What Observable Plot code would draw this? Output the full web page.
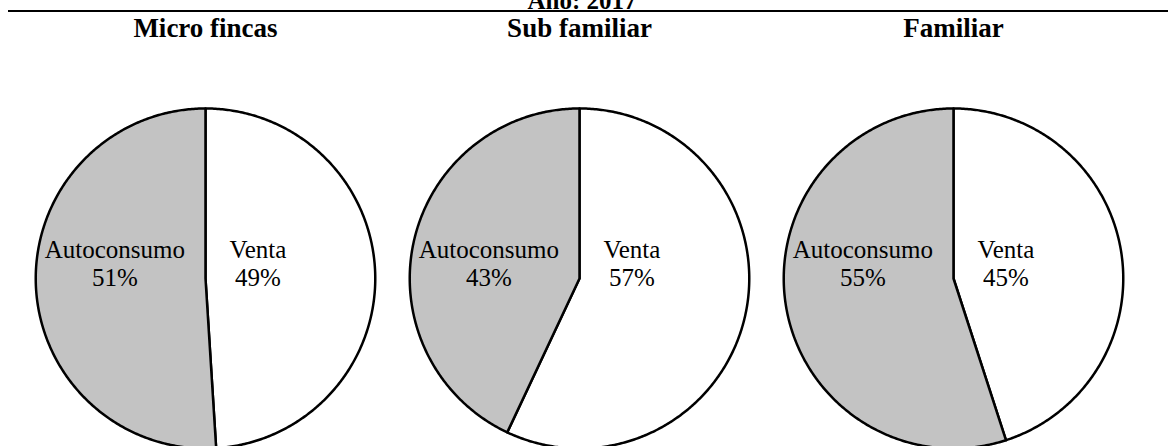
<!DOCTYPE html>
<html>
<head>
<meta charset="utf-8">
<script src="https://cdn.jsdelivr.net/npm/d3@7"></script>
<script src="https://cdn.jsdelivr.net/npm/@observablehq/plot@0.6"></script>
<style>
  html, body { margin: 0; padding: 0; background: white; overflow: hidden; }
  #wrap { position: relative; width: 1168px; height: 446px; }
  #chart { position: absolute; left: 0; top: 0; }
  #year { position: absolute; left: 382px; width: 400px; top: -13px; line-height: 24px;
          text-align: center; font: bold 25px "Liberation Serif", "Times New Roman", serif; color: black; z-index: 2; }
  #rule { position: absolute; left: 8px; right: 0; top: 10px; height: 2px; background: black; z-index: 2; }
</style>
</head>
<body>
<div id="wrap">
  <div id="chart"></div>
  <div id="year">Año: 2017</div>
  <div id="rule"></div>
</div>
<script>
// ---- data ----
const groups = ["Micro fincas", "Sub familiar", "Familiar"];
const categories = ["Venta", "Autoconsumo"];
const venta = [49, 57, 45];
const autoconsumo = [51, 43, 55];
const sliceColors = ["white", "#c3c3c3"];

// ---- build slices (unit radius) ----
const pie = d3.pie().sort(null).startAngle(0).endAngle(2 * Math.PI);
const pts = [];
const labels = [];
groups.forEach((g, i) => {
  const vals = [venta[i], autoconsumo[i]];
  pie(vals).forEach((a, j) => {
    const cat = categories[j];
    pts.push({group: g, cat, x: 0, y: 0});
    const n = Math.max(2, Math.ceil((a.endAngle - a.startAngle) / 0.01));
    for (let k = 0; k <= n; k++) {
      const t = a.startAngle + (a.endAngle - a.startAngle) * k / n;
      pts.push({group: g, cat, x: Math.sin(t), y: Math.cos(t)});
    }
    const mid = (a.startAngle + a.endAngle) / 2;
    const halfW = cat.length * 12.8 / 2 / 170;
    labels.push({group: g, cat, text: `${cat}\n${vals[j]}%`,
                 x: Math.sign(Math.sin(mid)) * (0.12 + halfW), y: 0.09});
  });
});

const chart = Plot.plot({
  width: 1168,
  height: 446,
  marginLeft: 17,
  marginRight: 28,
  marginTop: 0,
  marginBottom: 0,
  style: {background: "white"},
  fx: {domain: groups, padding: 0, axis: null},
  x: {domain: [-1.1015, 1.1015], axis: null},
  y: {domain: [-0.988, 1.635], axis: null},
  color: {domain: categories, range: sliceColors},
  marks: [
    Plot.line(pts, {fx: "group", x: "x", y: "y", z: "cat", fill: "cat",
      stroke: "black", strokeWidth: 2.5, curve: "linear-closed", strokeLinejoin: "round"}),
    Plot.text(labels, {fx: "group", x: "x", y: "y", text: "text",
      fontSize: 25, lineHeight: 1.12, fontFamily: "Liberation Serif, Times New Roman, serif", fill: "black"}),
    Plot.text(groups, {fx: d => d, text: d => d, frameAnchor: "top", lineAnchor: "middle", dy: 28,
      fontSize: 27, fontWeight: "bold", fontFamily: "Liberation Serif, Times New Roman, serif", fill: "black"})
  ]
});
document.getElementById("chart").appendChild(chart);
</script>
</body>
</html>
